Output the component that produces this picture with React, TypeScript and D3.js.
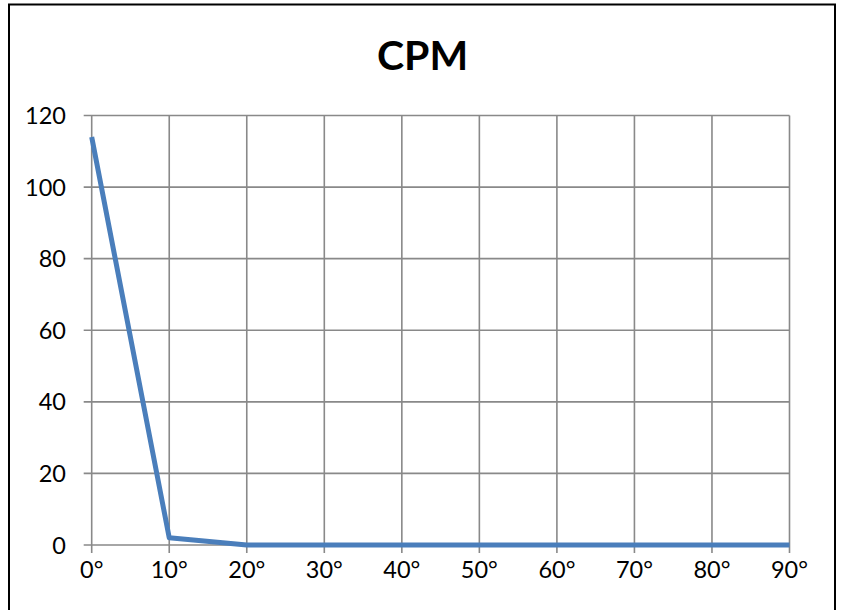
import React from "react";
import * as d3 from "d3";

const title = "CPM";
const angles = [0, 10, 20, 30, 40, 50, 60, 70, 80, 90];
const cpmValues = [114, 2, 0, 0, 0, 0, 0, 0, 0, 0];
const yTicks = [0, 20, 40, 60, 80, 100, 120];

export default function App() {
  const W = 843, H = 610;
  const left = 91.7, right = 789.5, top = 115.5, bottom = 545;
  const x = d3.scaleLinear().domain([0, 90]).range([left, right]);
  const y = d3.scaleLinear().domain([0, 120]).range([bottom, top]);
  const line = d3.line<number>().x((_, i) => x(angles[i])).y((d) => y(d));
  const font = "Lato, 'Open Sans', sans-serif";
  const grid = "#898989";
  return (
    <svg width={W} height={H} style={{ position: "absolute", left: 0, top: 0, background: "#fff" }}>
      <rect x={9} y={4.5} width={826} height={700} fill="#fff" stroke="#000" strokeWidth={2} />
      <text x={422.5} y={70} textAnchor="middle" fontFamily={font} fontWeight="bold" fontSize={41} fill="#000">{title}</text>
      {yTicks.map((t) => (
        <g key={"y" + t}>
          <line x1={left - 8} x2={right} y1={y(t)} y2={y(t)} stroke={grid} strokeWidth={1.6} />
          <text x={66} y={y(t) + 8.5} textAnchor="end" fontFamily={font} fontSize={23.5} fill="#000">{t}</text>
        </g>
      ))}
      {angles.map((a) => (
        <g key={"x" + a}>
          <line x1={x(a)} x2={x(a)} y1={top} y2={bottom + 8} stroke={grid} strokeWidth={1.6} />
          <text x={x(a)} y={578} textAnchor="middle" fontFamily={font} fontSize={23.5} fill="#000">{a}°</text>
        </g>
      ))}
      <path d={line(cpmValues) || ""} fill="none" stroke="#4a7ebb" strokeWidth={5} strokeLinejoin="round" />
    </svg>
  );
}
